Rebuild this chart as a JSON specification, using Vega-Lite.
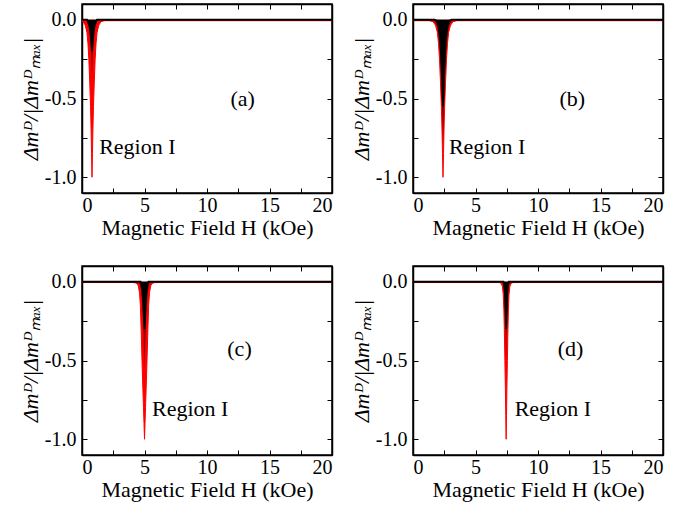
{
"$schema":"https://vega.github.io/schema/vega-lite/v6.json",
"background":"white",
"padding":{"left":18,"top":2,"right":5,"bottom":3},
"config":{
 "view":{"stroke":"black","strokeWidth":1.5},
 "axis":{"grid":false,"domainColor":"black","domainWidth":1.5,"tickColor":"black","tickWidth":1,"tickSize":-5,"labelFont":"Liberation Serif","labelFontSize":20,"labelColor":"black","titleFont":"Liberation Serif","titleFontSize":22,"titleFontWeight":"normal","titleColor":"black"},
 "axisX":{"labelPadding":7,"titlePadding":2},
 "axisY":{"labelPadding":11,"titlePadding":2},
 "text":{"font":"Liberation Serif","fontSize":22,"color":"black"}
},
"datasets":{
"curves":[
{"p":"a","s":"r","H":0,"m":-0.008},{"p":"a","s":"r","H":0.08,"m":-0.012},{"p":"a","s":"r","H":0.26,"m":-0.035},{"p":"a","s":"r","H":0.395,"m":-0.08},{"p":"a","s":"r","H":0.476,"m":-0.15},{"p":"a","s":"r","H":0.548,"m":-0.25},{"p":"a","s":"r","H":0.62,"m":-0.4},{"p":"a","s":"r","H":0.683,"m":-0.55},{"p":"a","s":"r","H":0.728,"m":-0.7},{"p":"a","s":"r","H":0.764,"m":-0.85},{"p":"a","s":"r","H":0.8,"m":-1.0},{"p":"a","s":"r","H":0.836,"m":-0.85},{"p":"a","s":"r","H":0.872,"m":-0.7},{"p":"a","s":"r","H":0.917,"m":-0.55},{"p":"a","s":"r","H":0.98,"m":-0.4},{"p":"a","s":"r","H":1.052,"m":-0.25},{"p":"a","s":"r","H":1.124,"m":-0.15},{"p":"a","s":"r","H":1.205,"m":-0.08},{"p":"a","s":"r","H":1.34,"m":-0.035},{"p":"a","s":"r","H":1.52,"m":-0.012},{"p":"a","s":"r","H":1.79,"m":-0.006},{"p":"a","s":"r","H":20,"m":-0.006},
{"p":"a","s":"d","H":0,"m":0},{"p":"a","s":"d","H":0.25,"m":0},{"p":"a","s":"d","H":0.4,"m":-0.008},{"p":"a","s":"d","H":0.52,"m":-0.03},{"p":"a","s":"d","H":0.62,"m":-0.08},{"p":"a","s":"d","H":0.7,"m":-0.16},{"p":"a","s":"d","H":0.75,"m":-0.25},{"p":"a","s":"d","H":0.8,"m":-0.35},{"p":"a","s":"d","H":0.85,"m":-0.25},{"p":"a","s":"d","H":0.9,"m":-0.16},{"p":"a","s":"d","H":0.98,"m":-0.08},{"p":"a","s":"d","H":1.08,"m":-0.03},{"p":"a","s":"d","H":1.2,"m":-0.008},{"p":"a","s":"d","H":1.35,"m":0},{"p":"a","s":"d","H":20,"m":0},
{"p":"a","s":"k","H":0,"m":0},{"p":"a","s":"k","H":0.4,"m":0},{"p":"a","s":"k","H":0.5,"m":-0.015},{"p":"a","s":"k","H":0.6,"m":-0.04},{"p":"a","s":"k","H":0.68,"m":-0.08},{"p":"a","s":"k","H":0.75,"m":-0.14},{"p":"a","s":"k","H":0.8,"m":-0.2},{"p":"a","s":"k","H":0.85,"m":-0.14},{"p":"a","s":"k","H":0.92,"m":-0.08},{"p":"a","s":"k","H":1.0,"m":-0.04},{"p":"a","s":"k","H":1.1,"m":-0.015},{"p":"a","s":"k","H":1.2,"m":0},{"p":"a","s":"k","H":20,"m":0},
{"p":"b","s":"r","H":0,"m":-0.006},{"p":"b","s":"r","H":1.3,"m":-0.006},{"p":"b","s":"r","H":1.6,"m":-0.012},{"p":"b","s":"r","H":1.8,"m":-0.035},{"p":"b","s":"r","H":1.95,"m":-0.08},{"p":"b","s":"r","H":2.04,"m":-0.15},{"p":"b","s":"r","H":2.12,"m":-0.25},{"p":"b","s":"r","H":2.2,"m":-0.4},{"p":"b","s":"r","H":2.27,"m":-0.55},{"p":"b","s":"r","H":2.32,"m":-0.7},{"p":"b","s":"r","H":2.36,"m":-0.85},{"p":"b","s":"r","H":2.4,"m":-1.0},{"p":"b","s":"r","H":2.44,"m":-0.85},{"p":"b","s":"r","H":2.48,"m":-0.7},{"p":"b","s":"r","H":2.53,"m":-0.55},{"p":"b","s":"r","H":2.6,"m":-0.4},{"p":"b","s":"r","H":2.68,"m":-0.25},{"p":"b","s":"r","H":2.76,"m":-0.15},{"p":"b","s":"r","H":2.85,"m":-0.08},{"p":"b","s":"r","H":3.0,"m":-0.035},{"p":"b","s":"r","H":3.2,"m":-0.012},{"p":"b","s":"r","H":3.5,"m":-0.006},{"p":"b","s":"r","H":20,"m":-0.006},
{"p":"b","s":"d","H":0,"m":0},{"p":"b","s":"d","H":1.55,"m":0},{"p":"b","s":"d","H":1.75,"m":-0.012},{"p":"b","s":"d","H":1.9,"m":-0.04},{"p":"b","s":"d","H":2.02,"m":-0.09},{"p":"b","s":"d","H":2.12,"m":-0.18},{"p":"b","s":"d","H":2.2,"m":-0.3},{"p":"b","s":"d","H":2.28,"m":-0.45},{"p":"b","s":"d","H":2.34,"m":-0.6},{"p":"b","s":"d","H":2.4,"m":-0.8},{"p":"b","s":"d","H":2.46,"m":-0.6},{"p":"b","s":"d","H":2.52,"m":-0.45},{"p":"b","s":"d","H":2.6,"m":-0.3},{"p":"b","s":"d","H":2.68,"m":-0.18},{"p":"b","s":"d","H":2.78,"m":-0.09},{"p":"b","s":"d","H":2.9,"m":-0.04},{"p":"b","s":"d","H":3.05,"m":-0.012},{"p":"b","s":"d","H":3.25,"m":0},{"p":"b","s":"d","H":20,"m":0},
{"p":"b","s":"k","H":0,"m":0},{"p":"b","s":"k","H":1.7,"m":0},{"p":"b","s":"k","H":1.85,"m":-0.005},{"p":"b","s":"k","H":1.98,"m":-0.02},{"p":"b","s":"k","H":2.08,"m":-0.055},{"p":"b","s":"k","H":2.16,"m":-0.11},{"p":"b","s":"k","H":2.24,"m":-0.2},{"p":"b","s":"k","H":2.3,"m":-0.3},{"p":"b","s":"k","H":2.35,"m":-0.42},{"p":"b","s":"k","H":2.4,"m":-0.55},{"p":"b","s":"k","H":2.45,"m":-0.42},{"p":"b","s":"k","H":2.5,"m":-0.3},{"p":"b","s":"k","H":2.56,"m":-0.2},{"p":"b","s":"k","H":2.64,"m":-0.11},{"p":"b","s":"k","H":2.72,"m":-0.055},{"p":"b","s":"k","H":2.82,"m":-0.02},{"p":"b","s":"k","H":2.95,"m":-0.005},{"p":"b","s":"k","H":3.1,"m":0},{"p":"b","s":"k","H":20,"m":0},
{"p":"c","s":"r","H":0,"m":-0.005},{"p":"c","s":"r","H":4.1,"m":-0.005},{"p":"c","s":"r","H":4.35,"m":-0.008},{"p":"c","s":"r","H":4.5,"m":-0.025},{"p":"c","s":"r","H":4.6,"m":-0.07},{"p":"c","s":"r","H":4.67,"m":-0.15},{"p":"c","s":"r","H":4.73,"m":-0.3},{"p":"c","s":"r","H":4.8,"m":-0.5},{"p":"c","s":"r","H":4.87,"m":-0.68},{"p":"c","s":"r","H":4.92,"m":-0.8},{"p":"c","s":"r","H":4.96,"m":-0.9},{"p":"c","s":"r","H":5.0,"m":-1.0},{"p":"c","s":"r","H":5.04,"m":-0.9},{"p":"c","s":"r","H":5.08,"m":-0.8},{"p":"c","s":"r","H":5.13,"m":-0.68},{"p":"c","s":"r","H":5.2,"m":-0.5},{"p":"c","s":"r","H":5.27,"m":-0.3},{"p":"c","s":"r","H":5.33,"m":-0.15},{"p":"c","s":"r","H":5.4,"m":-0.07},{"p":"c","s":"r","H":5.5,"m":-0.025},{"p":"c","s":"r","H":5.65,"m":-0.008},{"p":"c","s":"r","H":5.9,"m":-0.005},{"p":"c","s":"r","H":20,"m":-0.005},
{"p":"c","s":"d","H":0,"m":0},{"p":"c","s":"d","H":4.45,"m":0},{"p":"c","s":"d","H":4.58,"m":-0.008},{"p":"c","s":"d","H":4.68,"m":-0.03},{"p":"c","s":"d","H":4.76,"m":-0.08},{"p":"c","s":"d","H":4.84,"m":-0.18},{"p":"c","s":"d","H":4.9,"m":-0.3},{"p":"c","s":"d","H":4.95,"m":-0.42},{"p":"c","s":"d","H":5.0,"m":-0.55},{"p":"c","s":"d","H":5.05,"m":-0.42},{"p":"c","s":"d","H":5.1,"m":-0.3},{"p":"c","s":"d","H":5.16,"m":-0.18},{"p":"c","s":"d","H":5.24,"m":-0.08},{"p":"c","s":"d","H":5.32,"m":-0.03},{"p":"c","s":"d","H":5.42,"m":-0.008},{"p":"c","s":"d","H":5.55,"m":0},{"p":"c","s":"d","H":20,"m":0},
{"p":"c","s":"k","H":0,"m":0},{"p":"c","s":"k","H":4.68,"m":0},{"p":"c","s":"k","H":4.76,"m":-0.02},{"p":"c","s":"k","H":4.84,"m":-0.06},{"p":"c","s":"k","H":4.9,"m":-0.12},{"p":"c","s":"k","H":4.95,"m":-0.2},{"p":"c","s":"k","H":5.0,"m":-0.3},{"p":"c","s":"k","H":5.05,"m":-0.2},{"p":"c","s":"k","H":5.1,"m":-0.12},{"p":"c","s":"k","H":5.16,"m":-0.06},{"p":"c","s":"k","H":5.24,"m":-0.02},{"p":"c","s":"k","H":5.32,"m":0},{"p":"c","s":"k","H":20,"m":0},
{"p":"d","s":"r","H":0,"m":-0.005},{"p":"d","s":"r","H":6.9,"m":-0.005},{"p":"d","s":"r","H":7.05,"m":-0.01},{"p":"d","s":"r","H":7.15,"m":-0.03},{"p":"d","s":"r","H":7.22,"m":-0.08},{"p":"d","s":"r","H":7.27,"m":-0.18},{"p":"d","s":"r","H":7.31,"m":-0.32},{"p":"d","s":"r","H":7.35,"m":-0.5},{"p":"d","s":"r","H":7.39,"m":-0.68},{"p":"d","s":"r","H":7.42,"m":-0.85},{"p":"d","s":"r","H":7.45,"m":-1.0},{"p":"d","s":"r","H":7.48,"m":-0.85},{"p":"d","s":"r","H":7.51,"m":-0.68},{"p":"d","s":"r","H":7.55,"m":-0.5},{"p":"d","s":"r","H":7.59,"m":-0.32},{"p":"d","s":"r","H":7.63,"m":-0.18},{"p":"d","s":"r","H":7.68,"m":-0.08},{"p":"d","s":"r","H":7.75,"m":-0.03},{"p":"d","s":"r","H":7.85,"m":-0.01},{"p":"d","s":"r","H":8.0,"m":-0.005},{"p":"d","s":"r","H":20,"m":-0.005},
{"p":"d","s":"d","H":0,"m":0},{"p":"d","s":"d","H":7.12,"m":0},{"p":"d","s":"d","H":7.2,"m":-0.01},{"p":"d","s":"d","H":7.27,"m":-0.04},{"p":"d","s":"d","H":7.32,"m":-0.1},{"p":"d","s":"d","H":7.37,"m":-0.22},{"p":"d","s":"d","H":7.41,"m":-0.35},{"p":"d","s":"d","H":7.45,"m":-0.5},{"p":"d","s":"d","H":7.49,"m":-0.35},{"p":"d","s":"d","H":7.53,"m":-0.22},{"p":"d","s":"d","H":7.58,"m":-0.1},{"p":"d","s":"d","H":7.63,"m":-0.04},{"p":"d","s":"d","H":7.7,"m":-0.01},{"p":"d","s":"d","H":7.78,"m":0},{"p":"d","s":"d","H":20,"m":0},
{"p":"d","s":"k","H":0,"m":0},{"p":"d","s":"k","H":7.23,"m":0},{"p":"d","s":"k","H":7.29,"m":-0.015},{"p":"d","s":"k","H":7.34,"m":-0.05},{"p":"d","s":"k","H":7.38,"m":-0.11},{"p":"d","s":"k","H":7.42,"m":-0.2},{"p":"d","s":"k","H":7.45,"m":-0.3},{"p":"d","s":"k","H":7.48,"m":-0.2},{"p":"d","s":"k","H":7.52,"m":-0.11},{"p":"d","s":"k","H":7.56,"m":-0.05},{"p":"d","s":"k","H":7.61,"m":-0.015},{"p":"d","s":"k","H":7.67,"m":0},{"p":"d","s":"k","H":20,"m":0}
],
"labels":[
{"p":"a","k":"tag","t":"(a)","H":12.85,"m":-0.5},{"p":"a","k":"reg","t":"Region I","H":1.37,"m":-0.81},
{"p":"b","k":"tag","t":"(b)","H":12.75,"m":-0.5},{"p":"b","k":"reg","t":"Region I","H":2.87,"m":-0.81},
{"p":"c","k":"tag","t":"(c)","H":12.6,"m":-0.43},{"p":"c","k":"reg","t":"Region I","H":5.6,"m":-0.81},
{"p":"d","k":"tag","t":"(d)","H":12.6,"m":-0.43},{"p":"d","k":"reg","t":"Region I","H":8.13,"m":-0.81}
]
},
"bounds":"flush",
"columns":2,
"spacing":{"row":73,"column":81},
"concat":[
{"width":250,"height":189,"resolve":{"axis":{"x":"independent","y":"independent"}},"layer":[
 {"data":{"name":"curves"},"transform":[{"filter":"datum.p==='a' && datum.s==='r'"}],"mark":{"type":"area","color":"#ff0000","clip":true},
  "encoding":{"x":{"field":"H","type":"quantitative","scale":{"domain":[0,20]},"axis":{"orient":"bottom","values":[0,2.5,5,7.5,10,12.5,15,17.5,20],"labelExpr":"datum.value % 5 === 0 ? datum.label : ''","title":"Magnetic Field H (kOe)"}},
   "y":{"field":"m","type":"quantitative","stack":null,"scale":{"domain":[-1.1,0.075]},"axis":{"orient":"left","values":[0,-0.25,-0.5,-0.75,-1],"labelExpr":"abs(datum.value*2-round(datum.value*2))<0.001 ? replace(format(datum.value,'.1f'),'\u2212','-') : ''","title":"\u0394m\u1d30/|\u0394m\u1d30\u2098\u2090\u2093|","titleFontStyle":"italic"}}}},
 {"data":{"name":"curves"},"transform":[{"filter":"datum.p==='a' && datum.s==='r'"}],"mark":{"type":"line","color":"#ff0000","strokeWidth":1,"clip":true},"encoding":{"x":{"field":"H","type":"quantitative","axis":null},"y":{"field":"m","type":"quantitative","axis":null}}},
 {"data":{"name":"curves"},"transform":[{"filter":"datum.p==='a' && datum.s==='d'"}],"mark":{"type":"area","color":"#8a0000","clip":true},"encoding":{"x":{"field":"H","type":"quantitative","axis":null},"y":{"field":"m","type":"quantitative","stack":null,"axis":null}}},
 {"data":{"name":"curves"},"transform":[{"filter":"datum.p==='a' && datum.s==='k'"}],"mark":{"type":"area","color":"#000000","clip":true},"encoding":{"x":{"field":"H","type":"quantitative","axis":null},"y":{"field":"m","type":"quantitative","stack":null,"axis":null}}},
 {"data":{"name":"curves"},"transform":[{"filter":"datum.p==='a' && datum.s==='k'"}],"mark":{"type":"line","color":"#000000","strokeWidth":2,"clip":true},"encoding":{"x":{"field":"H","type":"quantitative","axis":null},"y":{"field":"m","type":"quantitative","axis":null}}},
 {"data":{"name":"labels"},"transform":[{"filter":"datum.p==='a' && datum.k==='tag'"}],"mark":{"type":"text","baseline":"middle","align":"center"},"encoding":{"x":{"field":"H","type":"quantitative","axis":null},"y":{"field":"m","type":"quantitative","axis":null},"text":{"field":"t"}}},
 {"data":{"name":"labels"},"transform":[{"filter":"datum.p==='a' && datum.k==='reg'"}],"mark":{"type":"text","baseline":"middle","align":"left"},"encoding":{"x":{"field":"H","type":"quantitative","axis":null},"y":{"field":"m","type":"quantitative","axis":null},"text":{"field":"t"}}},
 {"data":{"name":"curves"},"transform":[{"filter":"datum.p==='a' && datum.s==='k'"}],"mark":{"type":"point","opacity":0},"encoding":{"x":{"field":"H","type":"quantitative","axis":{"orient":"top","values":[0,2.5,5,7.5,10,12.5,15,17.5,20],"labels":false,"title":null}},"y":{"field":"m","type":"quantitative","axis":{"orient":"right","values":[0,-0.25,-0.5,-0.75,-1],"labels":false,"title":null}}}}
]},
{"width":250,"height":189,"resolve":{"axis":{"x":"independent","y":"independent"}},"layer":[
 {"data":{"name":"curves"},"transform":[{"filter":"datum.p==='b' && datum.s==='r'"}],"mark":{"type":"area","color":"#ff0000","clip":true},
  "encoding":{"x":{"field":"H","type":"quantitative","scale":{"domain":[0,20]},"axis":{"orient":"bottom","values":[0,2.5,5,7.5,10,12.5,15,17.5,20],"labelExpr":"datum.value % 5 === 0 ? datum.label : ''","title":"Magnetic Field H (kOe)"}},
   "y":{"field":"m","type":"quantitative","stack":null,"scale":{"domain":[-1.1,0.075]},"axis":{"orient":"left","values":[0,-0.25,-0.5,-0.75,-1],"labelExpr":"abs(datum.value*2-round(datum.value*2))<0.001 ? replace(format(datum.value,'.1f'),'\u2212','-') : ''","title":"\u0394m\u1d30/|\u0394m\u1d30\u2098\u2090\u2093|","titleFontStyle":"italic"}}}},
 {"data":{"name":"curves"},"transform":[{"filter":"datum.p==='b' && datum.s==='r'"}],"mark":{"type":"line","color":"#ff0000","strokeWidth":1,"clip":true},"encoding":{"x":{"field":"H","type":"quantitative","axis":null},"y":{"field":"m","type":"quantitative","axis":null}}},
 {"data":{"name":"curves"},"transform":[{"filter":"datum.p==='b' && datum.s==='d'"}],"mark":{"type":"area","color":"#8a0000","clip":true},"encoding":{"x":{"field":"H","type":"quantitative","axis":null},"y":{"field":"m","type":"quantitative","stack":null,"axis":null}}},
 {"data":{"name":"curves"},"transform":[{"filter":"datum.p==='b' && datum.s==='k'"}],"mark":{"type":"area","color":"#000000","clip":true},"encoding":{"x":{"field":"H","type":"quantitative","axis":null},"y":{"field":"m","type":"quantitative","stack":null,"axis":null}}},
 {"data":{"name":"curves"},"transform":[{"filter":"datum.p==='b' && datum.s==='k'"}],"mark":{"type":"line","color":"#000000","strokeWidth":2,"clip":true},"encoding":{"x":{"field":"H","type":"quantitative","axis":null},"y":{"field":"m","type":"quantitative","axis":null}}},
 {"data":{"name":"labels"},"transform":[{"filter":"datum.p==='b' && datum.k==='tag'"}],"mark":{"type":"text","baseline":"middle","align":"center"},"encoding":{"x":{"field":"H","type":"quantitative","axis":null},"y":{"field":"m","type":"quantitative","axis":null},"text":{"field":"t"}}},
 {"data":{"name":"labels"},"transform":[{"filter":"datum.p==='b' && datum.k==='reg'"}],"mark":{"type":"text","baseline":"middle","align":"left"},"encoding":{"x":{"field":"H","type":"quantitative","axis":null},"y":{"field":"m","type":"quantitative","axis":null},"text":{"field":"t"}}},
 {"data":{"name":"curves"},"transform":[{"filter":"datum.p==='b' && datum.s==='k'"}],"mark":{"type":"point","opacity":0},"encoding":{"x":{"field":"H","type":"quantitative","axis":{"orient":"top","values":[0,2.5,5,7.5,10,12.5,15,17.5,20],"labels":false,"title":null}},"y":{"field":"m","type":"quantitative","axis":{"orient":"right","values":[0,-0.25,-0.5,-0.75,-1],"labels":false,"title":null}}}}
]},
{"width":250,"height":189,"resolve":{"axis":{"x":"independent","y":"independent"}},"layer":[
 {"data":{"name":"curves"},"transform":[{"filter":"datum.p==='c' && datum.s==='r'"}],"mark":{"type":"area","color":"#ff0000","clip":true},
  "encoding":{"x":{"field":"H","type":"quantitative","scale":{"domain":[0,20]},"axis":{"orient":"bottom","values":[0,2.5,5,7.5,10,12.5,15,17.5,20],"labelExpr":"datum.value % 5 === 0 ? datum.label : ''","title":"Magnetic Field H (kOe)"}},
   "y":{"field":"m","type":"quantitative","stack":null,"scale":{"domain":[-1.1,0.075]},"axis":{"orient":"left","values":[0,-0.25,-0.5,-0.75,-1],"labelExpr":"abs(datum.value*2-round(datum.value*2))<0.001 ? replace(format(datum.value,'.1f'),'\u2212','-') : ''","title":"\u0394m\u1d30/|\u0394m\u1d30\u2098\u2090\u2093|","titleFontStyle":"italic"}}}},
 {"data":{"name":"curves"},"transform":[{"filter":"datum.p==='c' && datum.s==='r'"}],"mark":{"type":"line","color":"#ff0000","strokeWidth":1,"clip":true},"encoding":{"x":{"field":"H","type":"quantitative","axis":null},"y":{"field":"m","type":"quantitative","axis":null}}},
 {"data":{"name":"curves"},"transform":[{"filter":"datum.p==='c' && datum.s==='d'"}],"mark":{"type":"area","color":"#8a0000","clip":true},"encoding":{"x":{"field":"H","type":"quantitative","axis":null},"y":{"field":"m","type":"quantitative","stack":null,"axis":null}}},
 {"data":{"name":"curves"},"transform":[{"filter":"datum.p==='c' && datum.s==='k'"}],"mark":{"type":"area","color":"#000000","clip":true},"encoding":{"x":{"field":"H","type":"quantitative","axis":null},"y":{"field":"m","type":"quantitative","stack":null,"axis":null}}},
 {"data":{"name":"curves"},"transform":[{"filter":"datum.p==='c' && datum.s==='k'"}],"mark":{"type":"line","color":"#000000","strokeWidth":2,"clip":true},"encoding":{"x":{"field":"H","type":"quantitative","axis":null},"y":{"field":"m","type":"quantitative","axis":null}}},
 {"data":{"name":"labels"},"transform":[{"filter":"datum.p==='c' && datum.k==='tag'"}],"mark":{"type":"text","baseline":"middle","align":"center"},"encoding":{"x":{"field":"H","type":"quantitative","axis":null},"y":{"field":"m","type":"quantitative","axis":null},"text":{"field":"t"}}},
 {"data":{"name":"labels"},"transform":[{"filter":"datum.p==='c' && datum.k==='reg'"}],"mark":{"type":"text","baseline":"middle","align":"left"},"encoding":{"x":{"field":"H","type":"quantitative","axis":null},"y":{"field":"m","type":"quantitative","axis":null},"text":{"field":"t"}}},
 {"data":{"name":"curves"},"transform":[{"filter":"datum.p==='c' && datum.s==='k'"}],"mark":{"type":"point","opacity":0},"encoding":{"x":{"field":"H","type":"quantitative","axis":{"orient":"top","values":[0,2.5,5,7.5,10,12.5,15,17.5,20],"labels":false,"title":null}},"y":{"field":"m","type":"quantitative","axis":{"orient":"right","values":[0,-0.25,-0.5,-0.75,-1],"labels":false,"title":null}}}}
]},
{"width":250,"height":189,"resolve":{"axis":{"x":"independent","y":"independent"}},"layer":[
 {"data":{"name":"curves"},"transform":[{"filter":"datum.p==='d' && datum.s==='r'"}],"mark":{"type":"area","color":"#ff0000","clip":true},
  "encoding":{"x":{"field":"H","type":"quantitative","scale":{"domain":[0,20]},"axis":{"orient":"bottom","values":[0,2.5,5,7.5,10,12.5,15,17.5,20],"labelExpr":"datum.value % 5 === 0 ? datum.label : ''","title":"Magnetic Field H (kOe)"}},
   "y":{"field":"m","type":"quantitative","stack":null,"scale":{"domain":[-1.1,0.075]},"axis":{"orient":"left","values":[0,-0.25,-0.5,-0.75,-1],"labelExpr":"abs(datum.value*2-round(datum.value*2))<0.001 ? replace(format(datum.value,'.1f'),'\u2212','-') : ''","title":"\u0394m\u1d30/|\u0394m\u1d30\u2098\u2090\u2093|","titleFontStyle":"italic"}}}},
 {"data":{"name":"curves"},"transform":[{"filter":"datum.p==='d' && datum.s==='r'"}],"mark":{"type":"line","color":"#ff0000","strokeWidth":1,"clip":true},"encoding":{"x":{"field":"H","type":"quantitative","axis":null},"y":{"field":"m","type":"quantitative","axis":null}}},
 {"data":{"name":"curves"},"transform":[{"filter":"datum.p==='d' && datum.s==='d'"}],"mark":{"type":"area","color":"#8a0000","clip":true},"encoding":{"x":{"field":"H","type":"quantitative","axis":null},"y":{"field":"m","type":"quantitative","stack":null,"axis":null}}},
 {"data":{"name":"curves"},"transform":[{"filter":"datum.p==='d' && datum.s==='k'"}],"mark":{"type":"area","color":"#000000","clip":true},"encoding":{"x":{"field":"H","type":"quantitative","axis":null},"y":{"field":"m","type":"quantitative","stack":null,"axis":null}}},
 {"data":{"name":"curves"},"transform":[{"filter":"datum.p==='d' && datum.s==='k'"}],"mark":{"type":"line","color":"#000000","strokeWidth":2,"clip":true},"encoding":{"x":{"field":"H","type":"quantitative","axis":null},"y":{"field":"m","type":"quantitative","axis":null}}},
 {"data":{"name":"labels"},"transform":[{"filter":"datum.p==='d' && datum.k==='tag'"}],"mark":{"type":"text","baseline":"middle","align":"center"},"encoding":{"x":{"field":"H","type":"quantitative","axis":null},"y":{"field":"m","type":"quantitative","axis":null},"text":{"field":"t"}}},
 {"data":{"name":"labels"},"transform":[{"filter":"datum.p==='d' && datum.k==='reg'"}],"mark":{"type":"text","baseline":"middle","align":"left"},"encoding":{"x":{"field":"H","type":"quantitative","axis":null},"y":{"field":"m","type":"quantitative","axis":null},"text":{"field":"t"}}},
 {"data":{"name":"curves"},"transform":[{"filter":"datum.p==='d' && datum.s==='k'"}],"mark":{"type":"point","opacity":0},"encoding":{"x":{"field":"H","type":"quantitative","axis":{"orient":"top","values":[0,2.5,5,7.5,10,12.5,15,17.5,20],"labels":false,"title":null}},"y":{"field":"m","type":"quantitative","axis":{"orient":"right","values":[0,-0.25,-0.5,-0.75,-1],"labels":false,"title":null}}}}
]}
]
}
